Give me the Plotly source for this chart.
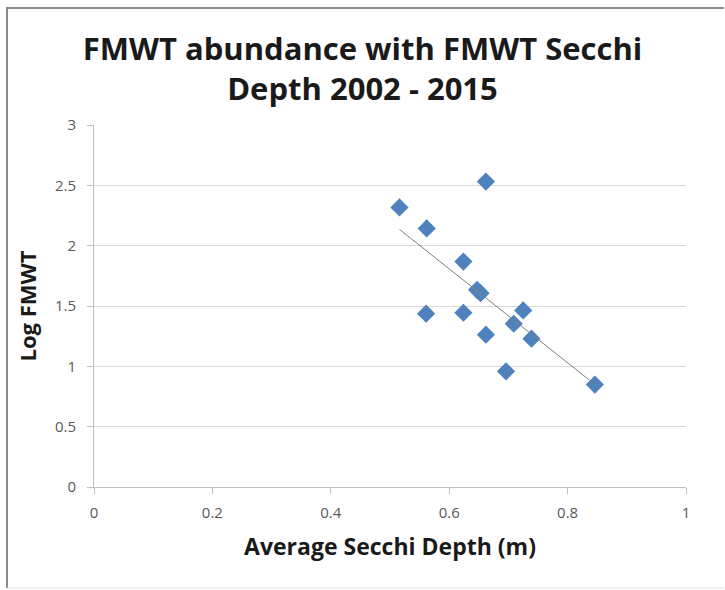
import numpy as np
import plotly.graph_objects as go

# Average Secchi depth (m) and log FMWT abundance, 2002 - 2015
secchi = [0.516, 0.662, 0.562, 0.624, 0.647, 0.653, 0.561, 0.624, 0.725, 0.709, 0.662, 0.739, 0.696, 0.846]
log_fmwt = [2.317, 2.531, 2.143, 1.868, 1.634, 1.606, 1.436, 1.444, 1.463, 1.353, 1.262, 1.229, 0.959, 0.849]

x_ticks = [0, 0.2, 0.4, 0.6, 0.8, 1]
y_ticks = [0, 0.5, 1, 1.5, 2, 2.5, 3]

# linear trendline over the data range
slope, intercept = np.polyfit(secchi, log_fmwt, 1)
tx = np.array([min(secchi), max(secchi)])
ty = slope * tx + intercept

fig = go.Figure()
fig.add_trace(go.Scatter(x=secchi, y=log_fmwt, mode='markers',
                         marker=dict(symbol='diamond', size=14, color='#4F81BD'),
                         hoverinfo='x+y'))
fig.add_trace(go.Scatter(x=tx, y=ty, mode='lines',
                         line=dict(color='#7F7F7F', width=1),
                         hoverinfo='none'))

font_family = 'Open Sans, Liberation Sans, sans-serif'
pw, ph = 592, 362   # plot area size in px

# outer chart frame corners (paper coords from pixel positions)
fx0 = (7 - 94) / pw
fx1 = (724 - 94) / pw
fy_top = 1 + (125 - 8) / ph
fy_bot = (487 - 588) / ph

fig.update_layout(
    width=725, height=590,
    showlegend=False,
    paper_bgcolor='white',
    plot_bgcolor='white',
    margin=dict(l=94, r=39, t=125, b=103),
    font=dict(family=font_family, color='#595959'),
    title=dict(text='<b>FMWT abundance with FMWT Secchi<br>Depth 2002 - 2015</b>',
               x=0.5, xanchor='center', y=0.898, yanchor='top',
               font=dict(size=31, color='#1a1a1a', family=font_family)),
    xaxis=dict(range=[0, 1], tickvals=x_ticks, showgrid=False, zeroline=False,
               showline=True, linecolor='#BFBFBF', ticks='outside', ticklen=6,
               tickcolor='#BFBFBF', ticklabelstandoff=6,
               tickfont=dict(size=15, color='#595959'),
               title=dict(text='<b>Average Secchi Depth (m)</b>',
                          font=dict(size=23, color='#1a1a1a'), standoff=17)),
    yaxis=dict(range=[0, 3], tickvals=y_ticks, showgrid=True, gridcolor='#D9D9D9',
               zeroline=False, showline=True, linecolor='#BFBFBF', ticks='outside',
               ticklen=6, tickcolor='#BFBFBF', ticklabelstandoff=8,
               tickfont=dict(size=15, color='#595959'),
               title=dict(text='<b>Log FMWT</b>',
                          font=dict(size=22, color='#1a1a1a'), standoff=12)),
    shapes=[
        dict(type='path', xref='paper', yref='paper', layer='above',
             path=f'M {fx0},{fy_bot} L {fx0},{fy_top} L {fx1},{fy_top}',
             line=dict(color='#8C8C8C', width=2)),
        dict(type='line', xref='paper', yref='paper',
             x0=fx0, x1=fx1, y0=fy_bot, y1=fy_bot,
             line=dict(color='#E0E0E0', width=1)),
    ],
)

fig.write_html("out.html", config={'displayModeBar': False},
               post_script="document.body.style.margin='0px';")
